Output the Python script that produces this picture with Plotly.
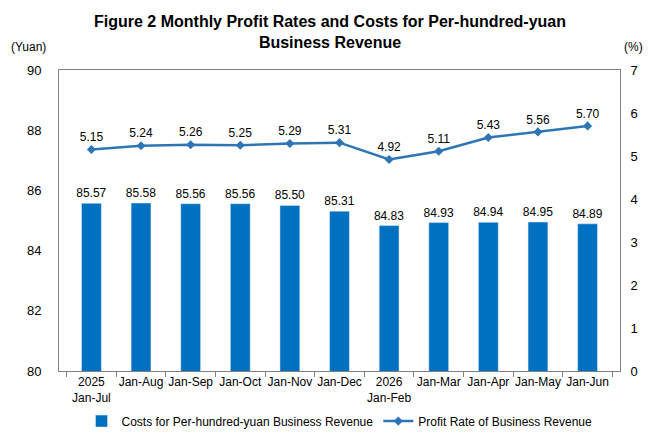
import plotly.graph_objects as go

# chart data
months = ["2025<br>Jan-Jul", "Jan-Aug", "Jan-Sep", "Jan-Oct", "Jan-Nov", "Jan-Dec",
          "2026<br>Jan-Feb", "Jan-Mar", "Jan-Apr", "Jan-May", "Jan-Jun"]
costs = [85.57, 85.58, 85.56, 85.56, 85.50, 85.31, 84.83, 84.93, 84.94, 84.95, 84.89]
profit_rate = [5.15, 5.24, 5.26, 5.25, 5.29, 5.31, 4.92, 5.11, 5.43, 5.56, 5.70]

bar_color = "#0070C0"
line_color = "#2E75B6"
font_family = "Liberation Sans, Arial, sans-serif"

fig = go.Figure()

fig.add_trace(go.Bar(
    x=months,
    y=costs,
    name="Costs for Per-hundred-yuan Business Revenue",
    marker_color=bar_color,
    text=[f"{v:.2f}" for v in costs],
    textposition="outside",
    constraintext="none",
    textfont=dict(size=12, color="#000000"),
    cliponaxis=False,
))

fig.add_trace(go.Scatter(
    x=months,
    y=profit_rate,
    name="Profit Rate of Business Revenue",
    yaxis="y2",
    mode="lines+markers+text",
    line=dict(color=line_color, width=2.5),
    marker=dict(symbol="diamond", size=7, color=line_color),
    text=[f"{v:.2f}" for v in profit_rate],
    textposition="top center",
    textfont=dict(size=12, color="#000000"),
    cliponaxis=False,
))

fig.update_layout(
    width=660,
    height=440,
    margin=dict(l=59, r=40, t=70, b=69),
    paper_bgcolor="white",
    plot_bgcolor="white",
    font=dict(family=font_family, size=12, color="#000000"),
    bargap=0.6,
    showlegend=True,
    legend=dict(
        orientation="h",
        x=0.5, xanchor="center", xref="paper",
        y=0.043, yanchor="middle", yref="container",
        font=dict(size=12),
        traceorder="normal",
    ),
    xaxis=dict(
        type="category",
        tickson="boundaries",
        ticks="outside",
        ticklen=5,
        tickcolor="#808080",
        tickangle=0,
        showline=True,
        linecolor="#808080",
        mirror=True,
        showgrid=False,
        automargin=False,
        tickfont=dict(size=12),
    ),
    yaxis=dict(
        range=[80, 90],
        dtick=2,
        showgrid=False,
        showline=True,
        linecolor="#808080",
        ticks="",
        tickfont=dict(size=13),
        ticklabelstandoff=14,
        zeroline=False,
        automargin=False,
    ),
    yaxis2=dict(
        range=[0, 7],
        dtick=1,
        overlaying="y",
        side="right",
        showgrid=False,
        showline=True,
        linecolor="#808080",
        ticks="",
        tickfont=dict(size=13),
        ticklabelstandoff=7,
        zeroline=False,
        automargin=False,
    ),
    annotations=[
        dict(text="<b>Figure 2 Monthly Profit Rates and Costs for Per-hundred-yuan<br>Business Revenue</b>",
             xref="paper", yref="paper", x=0.483, y=1.195, xanchor="center", yanchor="top",
             showarrow=False, font=dict(size=16)),
        dict(text="(Yuan)", xref="paper", yref="paper", x=-0.09, y=1.045,
             xanchor="left", yanchor="bottom", showarrow=False, font=dict(size=12)),
        dict(text="(%)", xref="paper", yref="paper", x=1.003, y=1.045,
             xanchor="left", yanchor="bottom", showarrow=False, font=dict(size=12)),
    ],
)

# drop the page's default body margin so the figure sits at the window's corner
fig.write_html("out.html", config={"displayModeBar": False},
               post_script="document.body.style.margin='0px';")
